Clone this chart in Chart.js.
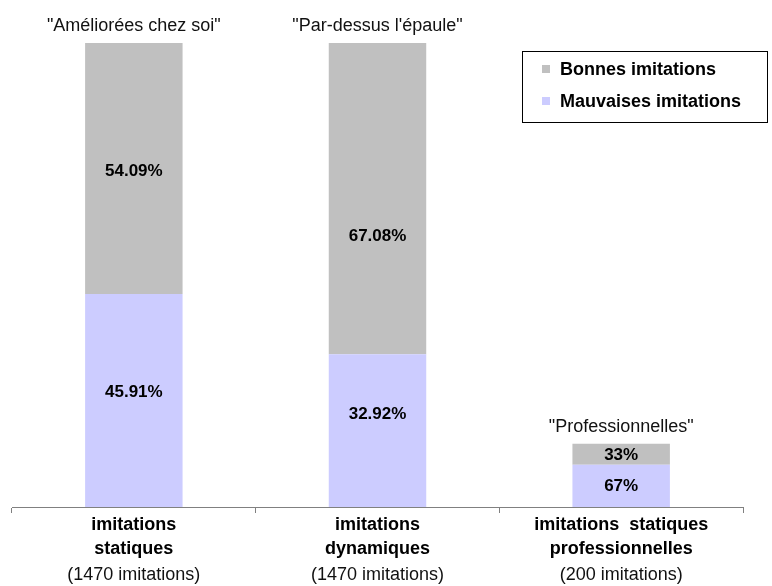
<!DOCTYPE html>
<html>
<head>
<meta charset="utf-8">
<script src="https://cdn.jsdelivr.net/npm/chart.js@4"></script>
<style>
html,body{margin:0;padding:0;background:#fff;}
#wrap{width:772px;height:586px;}
</style>
</head>
<body>
<div id="wrap"><canvas id="c" width="772" height="586"></canvas></div>
<script>
const categories = [
  ["imitations", "statiques", "(1470 imitations)"],
  ["imitations", "dynamiques", "(1470 imitations)"],
  ["imitations  statiques", "professionnelles", "(200 imitations)"]
];
const groupNames = ["\"Améliorées chez soi\"", "\"Par-dessus l'épaule\"", "\"Professionnelles\""];
const totals = [1470, 1470, 200];
const badPct = [45.91, 32.92, 67];
const goodPct = [54.09, 67.08, 33];
const seriesNames = ["Mauvaises imitations", "Bonnes imitations"];
const colors = ["#CCCCFF", "#C0C0C0"];

const badValues = badPct.map((p, i) => p * totals[i] / 100);
const goodValues = goodPct.map((p, i) => p * totals[i] / 100);

const FONT = "'Liberation Sans', Arial, sans-serif";
// pixel nudges of the value labels relative to segment centre (style only)
const labelNudge = [[-9, -17, -1], [2, 37, 0]];

const overlay = {
  id: 'overlay',
  afterDatasetsDraw(chart) {
    const ctx = chart.ctx;
    const x = chart.scales.x;
    const pcts = [badPct, goodPct];
    ctx.save();
    ctx.textAlign = 'center';
    ctx.textBaseline = 'middle';
    ctx.fillStyle = '#000';
    ctx.font = "bold 17px " + FONT;
    chart.data.datasets.forEach((ds, di) => {
      const meta = chart.getDatasetMeta(di);
      meta.data.forEach((bar, i) => {
        const pct = pcts[di][i];
        const txt = (Number.isInteger(pct) ? pct : pct.toFixed(2)) + '%';
        ctx.fillText(txt, bar.x, (bar.y + bar.base) / 2 + 1 + labelNudge[di][i]);
      });
    });
    // group names above bars
    ctx.font = "18px " + FONT;
    ctx.fillStyle = '#111';
    chart.getDatasetMeta(1).data.forEach((bar, i) => {
      ctx.fillText(groupNames[i], bar.x, bar.y - 17);
    });
    // category labels
    categories.forEach((lines, i) => {
      const cx = x.getPixelForValue(i);
      const by = chart.chartArea.bottom;
      ctx.font = "bold 18px " + FONT;
      ctx.fillStyle = '#000';
      ctx.fillText(lines[0], cx, by + 18);
      ctx.fillText(lines[1], cx, by + 42);
      ctx.font = "18px " + FONT;
      ctx.fillStyle = '#111';
      ctx.fillText(lines[2], cx, by + 68);
    });
    // legend
    const lx = 522, ly = 51, lw = 245, lh = 71;
    ctx.strokeStyle = '#000';
    ctx.lineWidth = 1;
    ctx.strokeRect(lx + 0.5, ly + 0.5, lw, lh);
    ctx.textAlign = 'left';
    ctx.font = "bold 18px " + FONT;
    [1, 0].forEach((di, k) => {
      const ds = chart.data.datasets[di];
      const yy = ly + 18 + k * 32;
      ctx.fillStyle = ds.backgroundColor;
      ctx.fillRect(lx + 20, yy - 4, 8, 8);
      ctx.fillStyle = '#000';
      ctx.fillText(ds.label, lx + 38, yy + 1);
    });
    ctx.restore();
  }
};

new Chart(document.getElementById('c'), {
  type: 'bar',
  data: {
    labels: categories.map(c => c.join(' ')),
    datasets: [
      { label: seriesNames[0], data: badValues, backgroundColor: colors[0], stack: 's' },
      { label: seriesNames[1], data: goodValues, backgroundColor: colors[1], stack: 's' }
    ]
  },
  options: {
    responsive: false,
    animation: false,
    layout: { padding: { left: 12, right: 29, top: 43, bottom: 73 } },
    datasets: { bar: { barPercentage: 0.4, categoryPercentage: 1 } },
    plugins: { legend: { display: false }, tooltip: { enabled: false } },
    scales: {
      x: {
        stacked: true,
        grid: { display: true, drawOnChartArea: false, tickLength: 6, color: '#808080', offset: true },
        border: { display: true, color: '#808080', width: 1 },
        ticks: { display: false }
      },
      y: { stacked: true, display: false, min: 0, max: 1470 }
    }
  },
  plugins: [overlay]
});
</script>
</body>
</html>
